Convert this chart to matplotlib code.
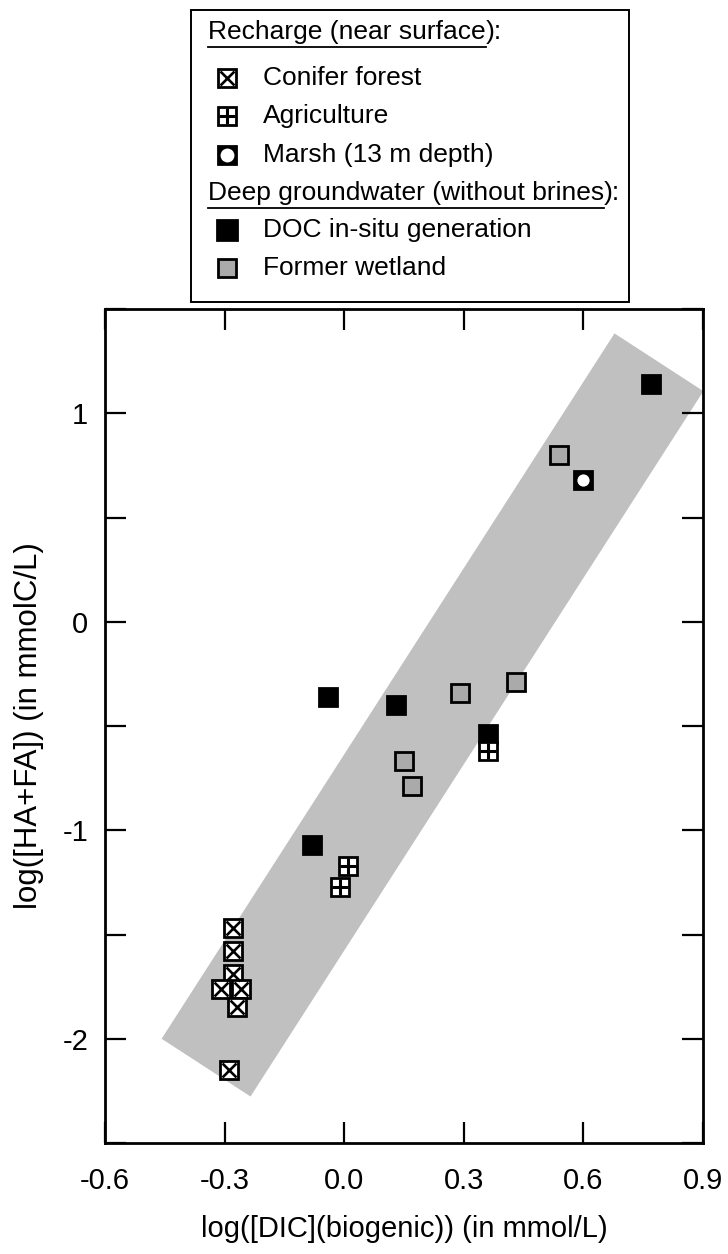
import numpy as np
import matplotlib
matplotlib.use("Agg")
import matplotlib.pyplot as plt
import matplotlib.patches as patches

plt.rcParams['font.family'] = ['Liberation Sans', 'DejaVu Sans']

# data
conifer_x = [-0.28, -0.28, -0.28, -0.31, -0.26, -0.27, -0.29]
conifer_y = [-1.47, -1.58, -1.69, -1.76, -1.76, -1.85, -2.15]
agri_x = [0.01, -0.01, 0.36]
agri_y = [-1.17, -1.27, -0.62]
marsh_x = [0.60]
marsh_y = [0.68]
doc_x = [0.77, -0.04, 0.13, 0.36, -0.08]
doc_y = [1.14, -0.36, -0.40, -0.54, -1.07]
wet_x = [0.54, 0.29, 0.43, 0.15, 0.17]
wet_y = [0.80, -0.34, -0.29, -0.67, -0.79]

# grey band corners
band_x = [-0.458, -0.235, 0.901, 0.678]
band_y = [-2.0, -2.277, 1.106, 1.383]

x_ticks = [-0.6, -0.3, 0.0, 0.3, 0.6, 0.9]
y_ticks = [-2.5, -2, -1.5, -1, -0.5, 0, 0.5, 1, 1.5]

W, H = 728, 1254
fig = plt.figure(figsize=(W / 100, H / 100), dpi=100)
ax = fig.add_axes([105 / W, 1 - 1143 / H, 598 / W, 834 / H])

ax.fill(band_x, band_y, color='#c0c0c0', lw=0, zorder=1)

ms = 12.3
mew = 2


def conifer(a, x, y, s=ms):
    a.plot(x, y, 's', ms=s, mfc='white', mec='black', mew=mew, ls='none', zorder=3)
    a.plot(x, y, 'x', ms=s - 2.2, mec='black', mew=1.9, ls='none', zorder=3)


def agri(a, x, y, s=ms):
    a.plot(x, y, 's', ms=s, mfc='white', mec='black', mew=mew, ls='none', zorder=4)
    a.plot(x, y, '+', ms=s - 1, mec='black', mew=2.2, ls='none', zorder=4)


def marsh(a, x, y, s=ms):
    a.plot(x, y, 's', ms=s, mfc='black', mec='black', mew=mew, ls='none', zorder=3)
    a.plot(x, y, 'o', ms=s - 3.5, mfc='white', mec='none', ls='none', zorder=3)


def doc(a, x, y, s=ms):
    a.plot(x, y, 's', ms=s, mfc='black', mec='black', mew=mew, ls='none', zorder=3)


def wet(a, x, y, s=ms):
    a.plot(x, y, 's', ms=s, mfc='#aaaaaa', mec='black', mew=mew, ls='none', zorder=3)


wet(ax, wet_x, wet_y)
doc(ax, doc_x, doc_y)
marsh(ax, marsh_x, marsh_y)
conifer(ax, conifer_x, conifer_y)
agri(ax, agri_x, agri_y)

ax.set_xlim(-0.6, 0.9)
ax.set_ylim(-2.5, 1.5)
ax.set_xticks(x_ticks)
ax.set_xticklabels(['%.1f' % v for v in x_ticks])
ax.set_yticks(y_ticks)
ax.set_yticklabels(['%d' % v if v == int(v) and -2.5 < v < 1.5 else '' for v in y_ticks])
ax.tick_params(direction='in', length=15, width=1.6, top=True, right=True, labelsize=21)
ax.tick_params(axis='x', pad=17)
ax.tick_params(axis='y', pad=12)
for sp in ax.spines.values():
    sp.set_linewidth(2)

ax.set_xlabel('log([DIC](biogenic)) (in mmol/L)', fontsize=21, labelpad=15)
ax.set_ylabel('log([HA+FA]) (in mmolC/L)', fontsize=22.5, labelpad=13)

# legend box drawn by hand (pixel coords, origin top left)
lax = fig.add_axes([0, 0, 1, 1], zorder=5)
lax.set_xlim(0, W)
lax.set_ylim(H, 0)
lax.axis('off')
lax.add_patch(patches.Rectangle((191, 10), 438, 292, fill=True, fc='white', ec='black', lw=1.4))

fs = 19
rend = fig.canvas.get_renderer()


def header(y, txt, tail):
    t = lax.text(208, y, txt, fontsize=fs, va='baseline', ha='left')
    bb = t.get_window_extent(renderer=rend).transformed(lax.transData.inverted())
    lax.plot([bb.x0, bb.x1], [y + 8, y + 8], color='black', lw=1.3)
    lax.text(bb.x1, y, tail, fontsize=fs, va='baseline', ha='left')


header(39, 'Recharge (near surface', '):')
header(200, 'Deep groundwater (without brines', '):')

mx = 227
tx = 263
rows = [
    (85, 'Conifer forest', conifer, 12.5),
    (123, 'Agriculture', agri, 12.5),
    (162, 'Marsh (13 m depth)', marsh, 13.5),
    (237, 'DOC in-situ generation', doc, 14),
    (275, 'Former wetland', wet, 13.5),
]
for y, label, fn, s in rows:
    fn(lax, [mx], [y - 7], s=s)
    lax.text(tx, y, label, fontsize=fs, va='baseline', ha='left')

fig.savefig('out.png', dpi=100, facecolor='white')
